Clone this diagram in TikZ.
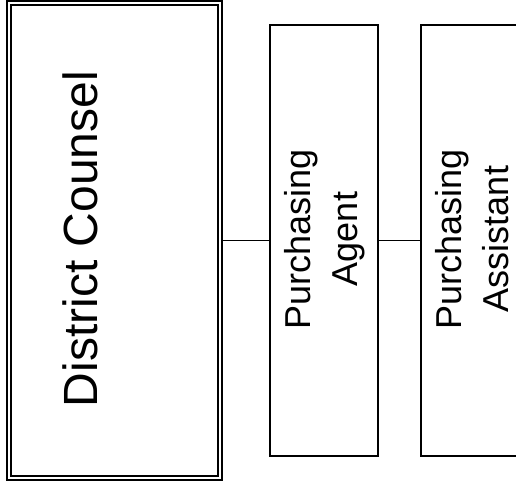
\documentclass[tikz,border=0pt]{standalone}
\usepackage{fontspec}
\setmainfont{Liberation Sans}
\begin{document}
\begin{tikzpicture}[x=1pt,y=-1pt,
  headbox/.style={draw=black,line width=1.3pt,double=white,double distance=2.7pt,
    outer sep=2.65pt,inner sep=0pt},
  staffbox/.style={draw=black,line width=1.5pt,inner sep=0pt,
    minimum width=108pt,minimum height=431pt},
  stafflabel/.style={rotate=90,inner sep=0pt,align=center,
    font=\fontsize{36}{47}\selectfont},
  headlabel/.style={rotate=90,inner sep=0pt,font=\fontsize{48}{52}\selectfont},
  link/.style={draw=black,line width=1pt}]
\clip (0,0) rectangle (516,483);
% head of the office, drawn with a double frame
\node[headbox,minimum width=211pt,minimum height=475pt] (dc) at (114.5,240.5) {};
\node[headlabel] (dclabel) at (80.5,239) {District Counsel};
% staff positions
\node[staffbox] (pa) at (324,240.5) {};
\node[stafflabel] (palabel) at (325,239) {Purchasing\\Agent};
\node[staffbox] (ps) at (475,240.5) {};
\node[stafflabel] (pslabel) at (472.5,239) {Purchasing\\Assistant};
% reporting lines
\draw[link] (dc.east) -- (pa.west);
\draw[link] (pa.east) -- (ps.west);
\end{tikzpicture}
\end{document}
